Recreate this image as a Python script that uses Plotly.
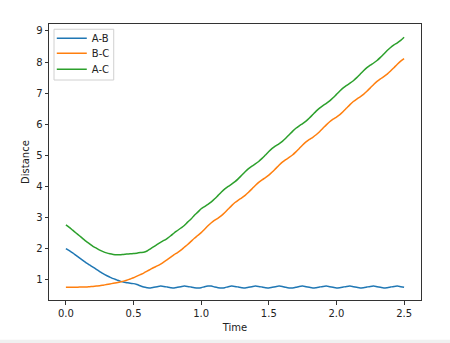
import plotly.graph_objects as go

time = [round(0.025 * i, 3) for i in range(101)]

ab = [2.00, 1.93, 1.86, 1.78, 1.70, 1.62, 1.54, 1.47, 1.40, 1.33,
      1.26, 1.19, 1.13, 1.08, 1.03, 0.99, 0.95, 0.92, 0.90, 0.88,
      0.87, 0.84, 0.80, 0.76, 0.74, 0.73, 0.75, 0.77, 0.79, 0.78,
      0.76, 0.74, 0.73, 0.75, 0.77, 0.79, 0.78, 0.76, 0.74, 0.73,
      0.74, 0.77, 0.79, 0.79, 0.76, 0.74, 0.73, 0.74, 0.77, 0.79,
      0.78, 0.76, 0.74, 0.73, 0.75, 0.77, 0.79, 0.78, 0.76, 0.74,
      0.73, 0.75, 0.77, 0.79, 0.78, 0.75, 0.73, 0.73, 0.75, 0.78,
      0.79, 0.77, 0.75, 0.73, 0.74, 0.76, 0.78, 0.79, 0.77, 0.75,
      0.73, 0.74, 0.76, 0.78, 0.79, 0.77, 0.75, 0.73, 0.74, 0.76,
      0.78, 0.79, 0.77, 0.75, 0.73, 0.74, 0.76, 0.78, 0.79, 0.77,
      0.75]

bc = [0.75, 0.75, 0.75, 0.75, 0.76, 0.76, 0.76, 0.77, 0.78, 0.79,
      0.80, 0.82, 0.84, 0.86, 0.88, 0.90, 0.92, 0.95, 0.98, 1.02,
      1.06, 1.11, 1.16, 1.21, 1.27, 1.33, 1.39, 1.44, 1.50, 1.57,
      1.64, 1.72, 1.80, 1.87, 1.95, 2.04, 2.13, 2.23, 2.33, 2.42,
      2.51, 2.62, 2.73, 2.83, 2.91, 2.98, 3.06, 3.16, 3.27, 3.38,
      3.48, 3.56, 3.63, 3.71, 3.81, 3.92, 4.03, 4.13, 4.21, 4.28,
      4.36, 4.46, 4.57, 4.68, 4.78, 4.86, 4.93, 5.01, 5.11, 5.22,
      5.33, 5.43, 5.51, 5.58, 5.66, 5.76, 5.87, 5.98, 6.08, 6.16,
      6.23, 6.31, 6.41, 6.52, 6.63, 6.73, 6.81, 6.88, 6.96, 7.06,
      7.17, 7.28, 7.38, 7.46, 7.53, 7.61, 7.71, 7.82, 7.93, 8.03,
      8.11]

ac = [2.76, 2.68, 2.59, 2.50, 2.41, 2.32, 2.23, 2.15, 2.07, 2.01,
      1.95, 1.90, 1.86, 1.83, 1.81, 1.80, 1.80, 1.81, 1.82, 1.83,
      1.84, 1.85, 1.87, 1.88, 1.92, 1.99, 2.06, 2.13, 2.20, 2.26,
      2.33, 2.41, 2.50, 2.58, 2.66, 2.74, 2.85, 2.95, 3.07, 3.17,
      3.28, 3.35, 3.42, 3.50, 3.60, 3.71, 3.82, 3.92, 4.00, 4.07,
      4.15, 4.25, 4.36, 4.47, 4.57, 4.65, 4.72, 4.80, 4.90, 5.01,
      5.12, 5.22, 5.30, 5.37, 5.45, 5.55, 5.66, 5.77, 5.87, 5.95,
      6.02, 6.10, 6.20, 6.31, 6.42, 6.52, 6.60, 6.67, 6.75, 6.85,
      6.96, 7.07, 7.17, 7.25, 7.32, 7.40, 7.50, 7.61, 7.72, 7.82,
      7.90, 7.97, 8.05, 8.15, 8.26, 8.37, 8.47, 8.55, 8.62, 8.70,
      8.80]

series = [("A-B", ab, "#1f77b4"), ("B-C", bc, "#ff7f0e"), ("A-C", ac, "#2ca02c")]
x_ticks = [0.0, 0.5, 1.0, 1.5, 2.0, 2.5]
y_ticks = [1, 2, 3, 4, 5, 6, 7, 8, 9]

FONT = "DejaVu Sans, sans-serif"
legend_ids = ["legend", "legend2", "legend3"]
legend_y = [0.948, 0.894, 0.836]

fig = go.Figure()
for (name, vals, color), lid in zip(series, legend_ids):
    fig.add_trace(go.Scatter(x=time, y=vals, mode="lines", name=name, legend=lid,
                             line=dict(color=color, width=1.5, shape="spline",
                                       smoothing=0.8)))

axis_common = dict(showgrid=False, zeroline=False, showline=True, linecolor="#333",
                   linewidth=1, mirror=True, ticks="outside", ticklen=3.5,
                   tickwidth=1, tickcolor="#333",
                   tickfont=dict(family=FONT, size=10, color="#222"))

legend_common = dict(x=0.0075, xanchor="left", yanchor="middle",
                     bgcolor="rgba(0,0,0,0)", borderwidth=0,
                     font=dict(family=FONT, size=10, color="#222"),
                     itemwidth=30)

layout_legends = {lid: dict(y=ly, **legend_common) for lid, ly in zip(legend_ids, legend_y)}

fig.update_layout(
    width=450, height=343,
    margin=dict(l=49, r=29, t=24, b=43),
    paper_bgcolor="white", plot_bgcolor="white",
    font=dict(family=FONT, size=10, color="#222"),
    xaxis=dict(range=[-0.125, 2.625], tickvals=x_ticks, tickformat=".1f",
               title=dict(text="Time", font=dict(family=FONT, size=10), standoff=6),
               **axis_common),
    yaxis=dict(range=[0.343, 9.225], tickvals=y_ticks,
               title=dict(text="Distance", font=dict(family=FONT, size=10), standoff=4),
               **axis_common),
    showlegend=True,
    shapes=[
        dict(type="rect", xref="paper", yref="paper", x0=-0.2, x1=1.2,
             y0=-0.157, y1=-0.1436, fillcolor="#f0f0f0", line=dict(width=0),
             layer="below"),
        dict(type="rect", xref="paper", yref="paper", x0=0.0135, x1=0.174,
             y0=0.797, y1=0.981, fillcolor="rgba(255,255,255,0.8)",
             line=dict(color="#d0d0d0", width=1), layer="above"),
    ],
    **layout_legends,
)

fig.write_html("out.html")
